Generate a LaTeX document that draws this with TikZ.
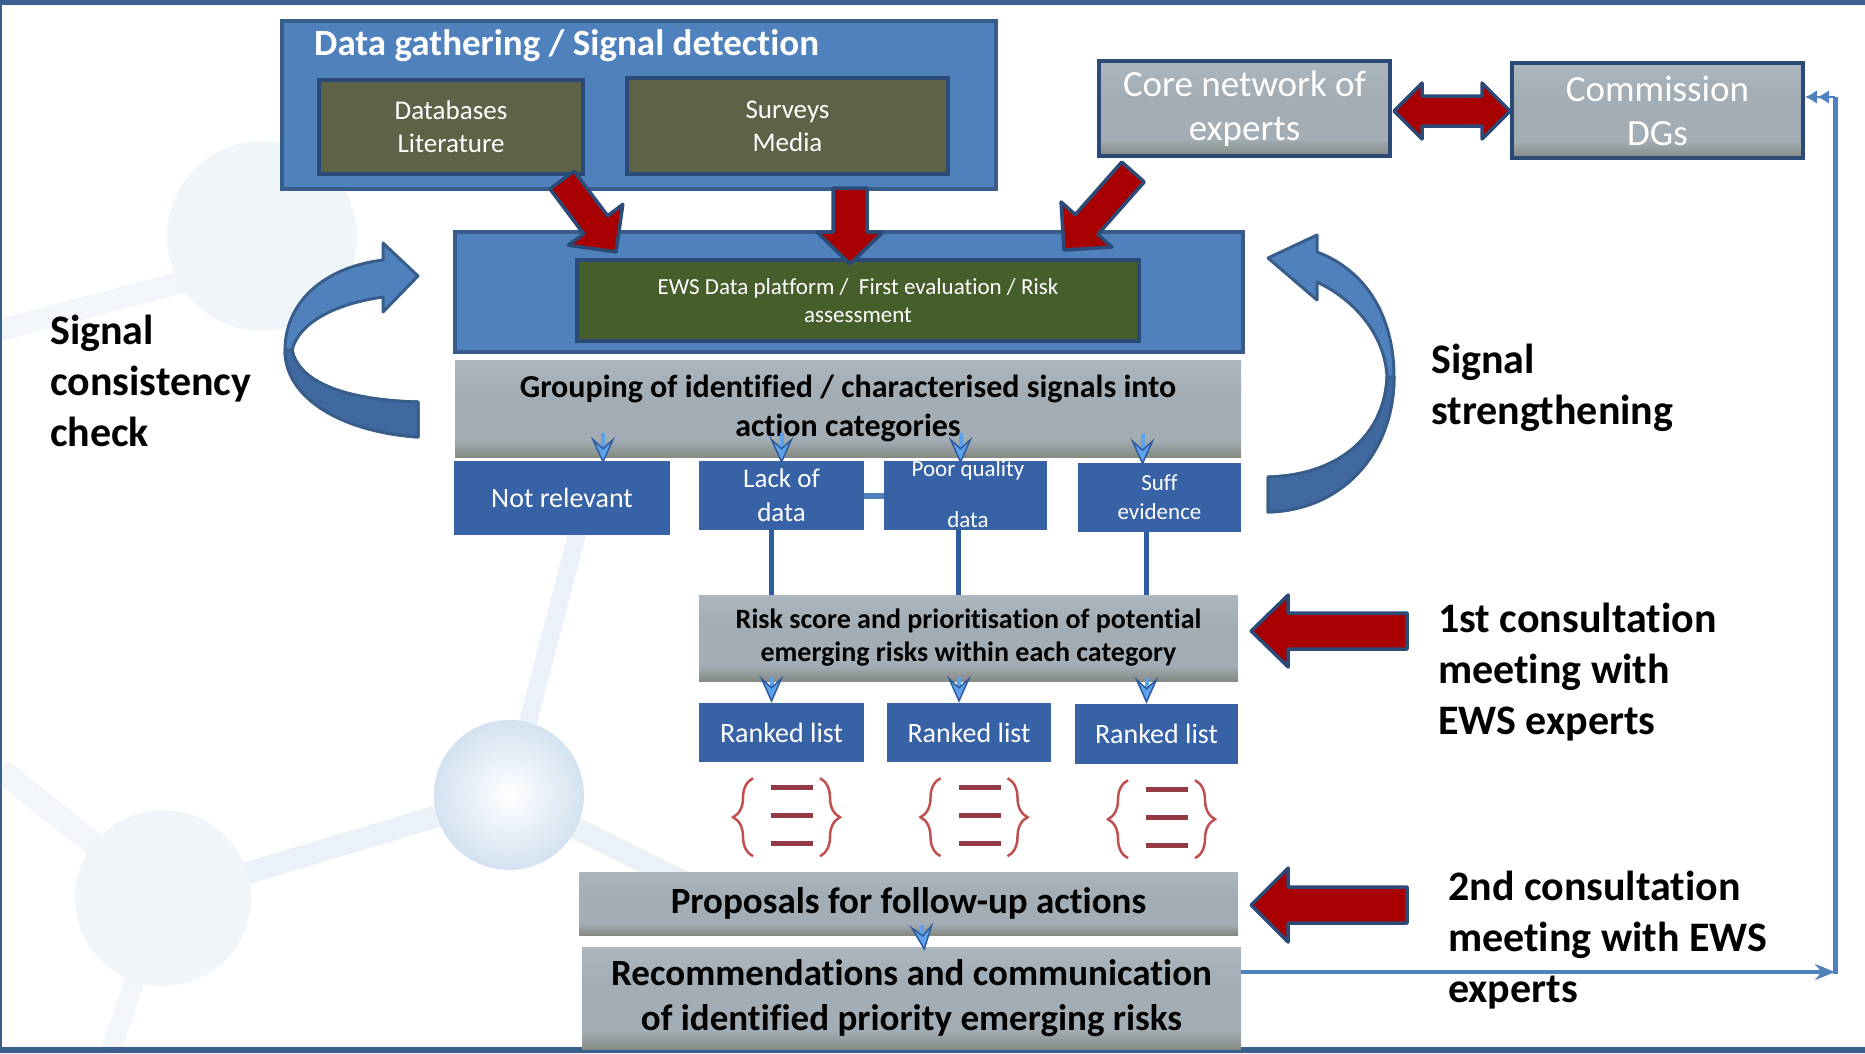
\documentclass[tikz,border=0pt]{standalone}
\usepackage{fontspec}
\setmainfont{Carlito}[Ligatures=NoCommon]
\usetikzlibrary{calc,arrows.meta,decorations.pathreplacing}
\definecolor{midblue}{HTML}{4F81BD}
\definecolor{edgeblue}{HTML}{385D8A}
\definecolor{navy}{HTML}{2C4A78}
\definecolor{olivebg}{HTML}{5E6347}
\definecolor{greenbg}{HTML}{465E2B}
\definecolor{catblue}{HTML}{3762A6}
\definecolor{arrowred}{HTML}{A80000}
\definecolor{gtop}{HTML}{ACB6BE}
\definecolor{gmid}{HTML}{A2ADB5}
\definecolor{gbot}{HTML}{858A84}
\definecolor{darkcurve}{HTML}{3F69A0}
\definecolor{chevlight}{HTML}{5DA2EA}
\definecolor{chevdark}{HTML}{2F5C9E}
\definecolor{braceline}{HTML}{C0504D}
\definecolor{barred}{HTML}{943A44}
\definecolor{frameblue}{HTML}{3A5F8E}
\definecolor{bgball}{HTML}{D3E2F1}
\definecolor{bgballfaint}{HTML}{F0F5FA}
\definecolor{bgstick}{HTML}{EAF1F8}
\definecolor{bgstickfaint}{HTML}{F2F6FB}
\pgfdeclareverticalshading{grayfade}{100bp}{color(0bp)=(gbot); color(25bp)=(gbot); color(34bp)=(gmid); color(58bp)=(gmid); color(75bp)=(gtop); color(100bp)=(gtop)}
\newcommand\fsz[2]{\fontsize{#1}{#2}\selectfont}
% fat block arrow: tail, tip, shaft half width, head half width, head length
\newcommand\fatarrow[5]{%
  \path (#1) coordinate (fa-s) (#2) coordinate (fa-e);
  \path ($(fa-e)!#5!(fa-s)$) coordinate (fa-b);
  \draw[redarrow] ($(fa-s)!#3!90:(fa-e)$) -- ($(fa-b)!#3!-90:(fa-s)$) -- ($(fa-b)!#4!-90:(fa-s)$) -- (fa-e)
    -- ($(fa-b)!#4!90:(fa-s)$) -- ($(fa-b)!#3!90:(fa-s)$) -- ($(fa-s)!#3!-90:(fa-e)$) -- cycle;}
\newcommand\fatdarrow[5]{%
  \path (#1) coordinate (fa-s) (#2) coordinate (fa-e);
  \path ($(fa-e)!#5!(fa-s)$) coordinate (fa-b1) ($(fa-s)!#5!(fa-e)$) coordinate (fa-b0);
  \draw[redarrow] (fa-s) -- ($(fa-b0)!#4!90:(fa-e)$) -- ($(fa-b0)!#3!90:(fa-e)$) -- ($(fa-b1)!#3!-90:(fa-s)$)
    -- ($(fa-b1)!#4!-90:(fa-s)$) -- (fa-e) -- ($(fa-b1)!#4!90:(fa-s)$) -- ($(fa-b1)!#3!90:(fa-s)$)
    -- ($(fa-b0)!#3!-90:(fa-e)$) -- ($(fa-b0)!#4!-90:(fa-e)$) -- cycle;}
\tikzset{
  bluebox/.style={draw=edgeblue, line width=3.5pt, fill=midblue, inner sep=0pt},
  olivebox/.style={draw=navy, line width=4pt, fill=olivebg, text=white, align=center, inner sep=0pt, font=\fsz{27}{33}},
  greenbox/.style={draw=navy, line width=4pt, fill=greenbg, text=white, align=center, inner sep=0pt, font=\fsz{23}{28}},
  corebox/.style={draw=navy, line width=4pt, shade, shading=grayfade, text=white, align=center, inner sep=0pt, font=\fsz{37}{44}},
  graybox/.style={shade, shading=grayfade, align=center, inner sep=0pt},
  catbox/.style={fill=catblue, text=white, align=center, inner sep=0pt},
  sidetext/.style={align=left, inner sep=0pt, anchor=west, font=\fsz{42}{51}\bfseries},
  chev/.style={chevlight, line width=4pt, -{Stealth[length=27pt, width=24pt, inset=11pt, fill=chevlight, color=chevdark, line width=1.5pt]}},
  vline/.style={chevdark, line width=4.5pt},
  redarrow/.style={fill=arrowred, draw=navy, line width=3.5pt, line join=round},
  fbline/.style={midblue, line width=4pt},
  bracepen/.style={braceline, line width=2.5pt, decorate, decoration={brace, amplitude=20pt, aspect=0.5}},
  barpen/.style={barred, line width=5pt}
}
\begin{document}
\begin{tikzpicture}[x=1pt,y=-1pt]
\useasboundingbox (0,0) rectangle (1865,1053);
% faint molecule behind the chart
\draw[bgstick, line width=18pt] (509,795) -- (578,530);
\draw[bgstick, line width=22pt] (509,795) -- (163,898);
\draw[bgstick, line width=22pt] (509,795) -- (690,885);
\draw[bgstickfaint, line width=24pt] (163,898) -- (0,770);
\draw[bgstickfaint, line width=20pt] (163,898) -- (110,1053);
\draw[bgstickfaint, line width=22pt] (0,330) -- (190,280);
\shade[inner color=white, outer color=bgball] (509,795) circle (75);
\fill[bgballfaint] (163,898) circle (88);
\fill[bgballfaint] (262,236) circle (95);
\draw[frameblue, line width=5pt] (0,2.5) -- (1865,2.5);
\draw[frameblue, line width=6pt] (0,1050) -- (1865,1050);
\draw[frameblue, line width=2pt] (1,0) -- (1,1053);

\node[bluebox, minimum width=714pt, minimum height=168pt] (dgbox) at (639,105) {};
\node[text=white, inner sep=0pt, anchor=west, font=\fsz{37}{44}\bfseries] (dgtitle) at (314,46) {Data gathering / Signal detection};
\node[olivebox, minimum width=264pt, minimum height=94pt] (dbase) at (451,127) {Databases\\Literature};
\node[olivebox, minimum width=321pt, minimum height=96pt] (survey) at (787.5,126) {Surveys\\Media};
\node[bluebox, minimum width=788pt, minimum height=120pt] (ewsbox) at (849,292) {};
\node[greenbox, minimum width=562pt, minimum height=81pt] (ewsdata) at (858,300.5) {EWS Data platform /\ \ First evaluation / Risk\\assessment};
\node[corebox, minimum width=291pt, minimum height=95pt] (core) at (1244.5,108.5) {Core network of\\experts};
\node[corebox, minimum width=291pt, minimum height=95pt] (dgs) at (1657.5,110.5) {Commission\\DGs};

\node[graybox, minimum width=786pt, minimum height=97pt, font=\fsz{32}{39}\bfseries] (group) at (848,408.5) {Grouping of identified / characterised signals into\\action categories};
\node[catbox, minimum width=216pt, minimum height=74pt, font=\fsz{28}{34}] (notrel) at (562,498) {Not relevant};
\node[catbox, minimum width=165pt, minimum height=69pt, font=\fsz{27}{34}] (lack) at (781.5,495.5) {Lack of\\data};
\node[catbox, minimum width=163pt, minimum height=69pt] (poor) at (965.5,495.5) {};
\node[text=white, align=center, inner sep=0pt, font=\fsz{23}{51}] (poortext) at (968,494.5) {Poor quality\\data};
\node[catbox, minimum width=163pt, minimum height=69pt, font=\fsz{23}{29}] (suff) at (1159.5,497) {Suff\\evidence};
\draw[midblue, line width=6pt] (lack.east) -- (poor.west);

\node[graybox, minimum width=539pt, minimum height=86pt, font=\fsz{28}{33}\bfseries] (risk) at (968.5,638) {Risk score and prioritisation of potential\\emerging risks within each category};
\node[catbox, minimum width=165pt, minimum height=59pt, font=\fsz{28}{34}] (rank1) at (781.5,732.5) {Ranked list};
\node[catbox, minimum width=164pt, minimum height=59pt, font=\fsz{28}{34}] (rank2) at (969,732.5) {Ranked list};
\node[catbox, minimum width=163pt, minimum height=60pt, font=\fsz{28}{34}] (rank3) at (1156.5,734) {Ranked list};
\node[graybox, minimum width=659pt, minimum height=63pt, font=\fsz{37}{44}\bfseries] (prop) at (908.5,903.5) {Proposals for follow-up actions};
\node[graybox, minimum width=659pt, minimum height=102pt, font=\fsz{37}{45}\bfseries] (reco) at (911.5,998) {Recommendations and communication\\of identified priority emerging risks};

\foreach \r in {rank1,rank2,rank3}{
  \path (\r.south) ++(5.5,55) coordinate (bc);
  \draw[bracepen] ($(bc)+(-34,39)$) -- ($(bc)+(-34,-39)$);
  \draw[bracepen] ($(bc)+(33,-39)$) -- ($(bc)+(33,39)$);
  \foreach \yy in {-30,-2,26}
    \draw[barpen] ($(bc)+(-16,\yy)$) -- ($(bc)+(26,\yy)$);
}

\draw[chev] ([xshift=41pt,yshift=28pt]notrel.north) -- ([xshift=41pt,yshift=-3pt]notrel.north);
\draw[chev] ([yshift=28pt]lack.north) -- ([yshift=-3pt]lack.north);
\draw[chev] ([xshift=-5pt,yshift=28pt]poor.north) -- ([xshift=-5pt,yshift=-3pt]poor.north);
\draw[chev] ([xshift=-17pt,yshift=28pt]suff.north) -- ([xshift=-17pt,yshift=-3pt]suff.north);
\draw[vline] ([xshift=-10pt]lack.south) -- ([xshift=-10pt]lack.south |- risk.north);
\draw[vline] ([xshift=-7pt]poor.south) -- ([xshift=-7pt]poor.south |- risk.north);
\draw[vline] ([xshift=-13pt]suff.south) -- ([xshift=-13pt]suff.south |- risk.north);
\draw[chev] ([xshift=-10pt,yshift=26pt]rank1.north) -- ([xshift=-10pt]rank1.north);
\draw[chev] ([xshift=-10pt,yshift=26pt]rank2.north) -- ([xshift=-10pt]rank2.north);
\draw[chev] ([xshift=-10pt,yshift=26pt]rank3.north) -- ([xshift=-10pt]rank3.north);
\draw[chev] ([xshift=13pt,yshift=10pt]prop.south) -- ([xshift=13pt,yshift=-4pt]reco.north);

\fatarrow{$(dbase.south east)+(-23,4)$}{$(ewsdata.north west)+(41,-6)$}{15pt}{34pt}{34pt}
\fatarrow{$(survey.south)+(62.5,12)$}{$(ewsdata.north)+(-8,6)$}{17pt}{33pt}{32pt}
\fatarrow{$(core.south west)+(36,14)$}{$(ewsdata.north east)+(-77,-8)$}{15pt}{34pt}{34pt}
\fatdarrow{$(core.east)+(2,2.5)$}{$(dgs.west)+(0,0.5)$}{15pt}{28pt}{28pt}
\fatarrow{$(risk.east)+(169,-7)$}{$(risk.east)+(13,-7)$}{18pt}{36pt}{37pt}
\fatarrow{$(prop.east)+(169,1.5)$}{$(prop.east)+(13,1.5)$}{18pt}{37pt}{37pt}

\filldraw[fill=midblue, draw=edgeblue, line width=3pt, line join=round] (418,437) .. controls (345,432) and (285,400) .. (285,350)
  .. controls (285,305) and (320,268) .. (383,260) -- (383,243) -- (418,276) -- (383,312) -- (383,297)
  .. controls (340,303) and (300,320) .. (292,350) .. controls (298,380) and (340,400) .. (418,402) -- cycle;
\filldraw[fill=darkcurve, draw=edgeblue, line width=3pt, line join=round] (418,437) .. controls (345,432) and (285,400) .. (285,350)
  -- (292,350) .. controls (298,380) and (340,400) .. (418,402) -- cycle;
\filldraw[fill=midblue, draw=edgeblue, line width=3pt, line join=round] (1268,512) .. controls (1345,510) and (1394,450) .. (1394,377)
  .. controls (1394,315) and (1365,270) .. (1317,252) -- (1317,235) -- (1268,258) -- (1317,300) -- (1317,282)
  .. controls (1355,300) and (1385,335) .. (1387,377) .. controls (1385,430) and (1345,475) .. (1268,477) -- cycle;
\filldraw[fill=darkcurve, draw=edgeblue, line width=3pt, line join=round] (1268,512) .. controls (1345,510) and (1394,450) .. (1394,377)
  -- (1387,377) .. controls (1385,430) and (1345,475) .. (1268,477) -- cycle;

\node[sidetext] (consist) at (50,381) {Signal\\consistency\\check};
\node[sidetext] (strength) at (1431,388) {Signal\\strengthening};
\node[sidetext] (consult1) at (1438,672) {1st consultation\\meeting with\\EWS experts};
\node[sidetext] (consult2) at (1448,940) {2nd consultation\\meeting with EWS\\experts};

\coordinate (fbstart) at ($(reco.east)+(0,-26)$);
\coordinate (fbcorner) at (1835,972);
\coordinate (fbtop) at (1835,97);
\draw[fbline, -{Stealth[length=20pt, width=16pt]}] (fbstart) -- (fbcorner);
\draw[midblue, line width=5pt] ([yshift=-2pt]fbcorner) -- (fbtop);
\draw[midblue, line width=2.5pt, -{Latex[length=12pt, width=14pt] Latex[length=12pt, width=14pt]}] (fbtop) -- (fbtop -| dgs.east);
\end{tikzpicture}
\end{document}
